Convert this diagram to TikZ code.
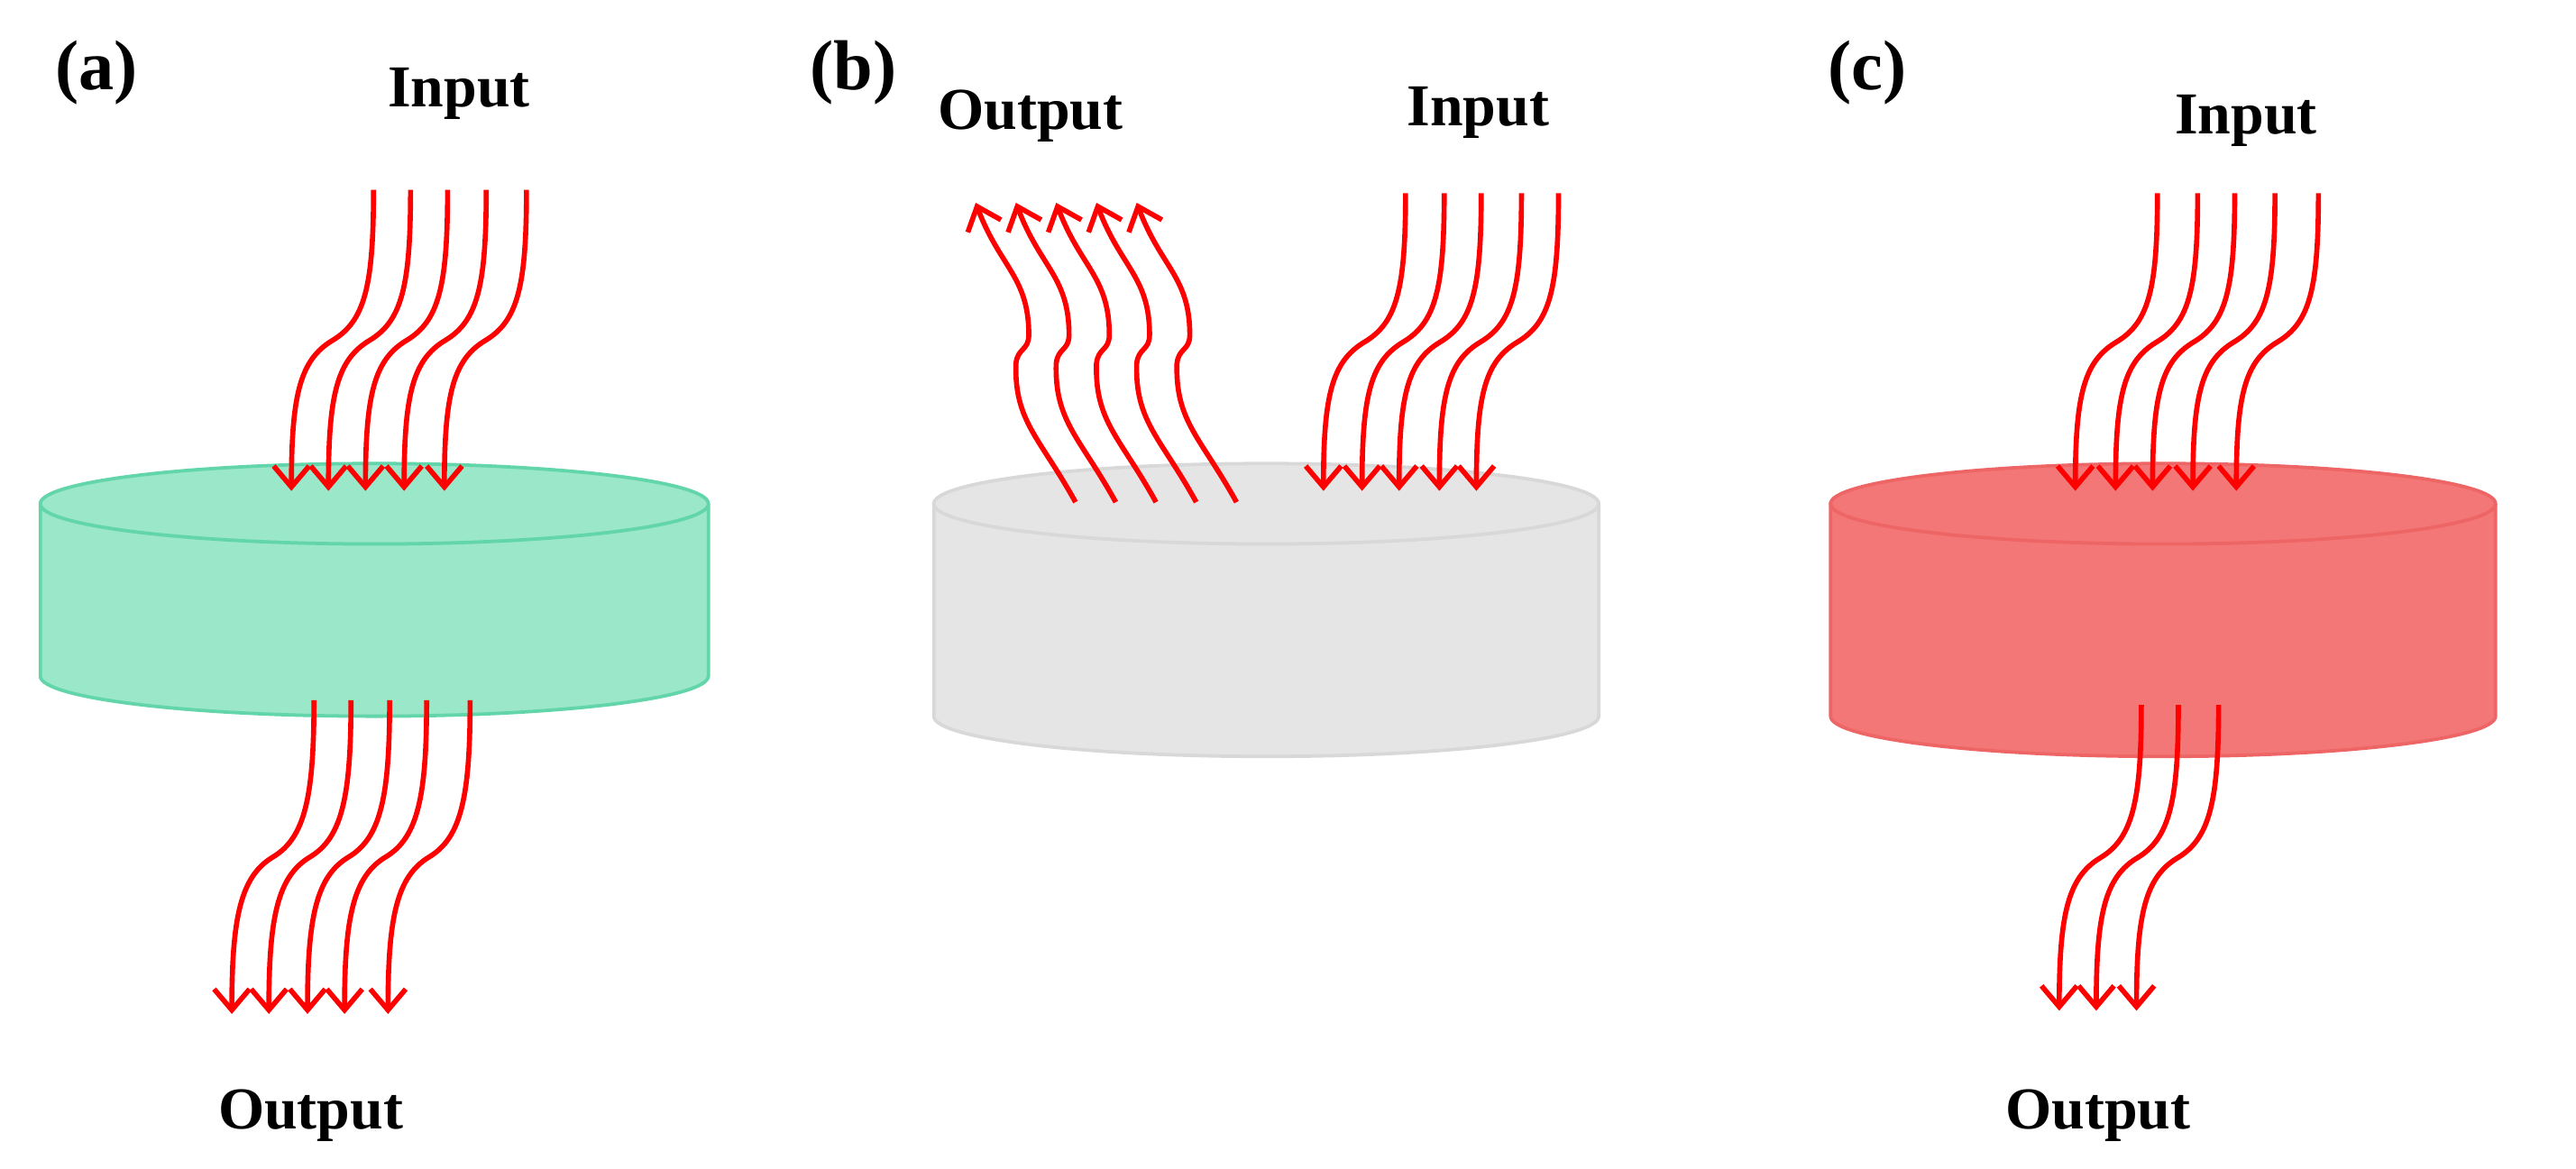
\documentclass[tikz,border=0pt]{standalone}
\usepackage{fontspec}
\setmainfont{Liberation Serif}
\usetikzlibrary{arrows.meta, calc}
\definecolor{cylgreen}{HTML}{9AE7CA}
\definecolor{edgegreen}{HTML}{62D5AB}
\definecolor{cylgray}{HTML}{E5E5E5}
\definecolor{edgegray}{HTML}{D8D8D8}
\definecolor{cylred}{HTML}{F47777}
\definecolor{edgered}{HTML}{EE6565}
\tikzset{
  label/.style={font=\bfseries\fontsize{10.5}{12}\selectfont},
  panel/.style={font=\bfseries\fontsize{12.5}{14}\selectfont},
  ray/.style={red, line width=0.9pt, -{Straight Barb[length=1.3mm,width=2.2mm,line width=0.9pt]}},
}
% cylinder: #1 centre x, #2 half width, #3 top y, #4 bottom y, #5 fill, #6 edge
\newcommand{\disc}[6]{%
  \filldraw[fill=#5, draw=#6, line width=0.6pt]
    (#1-#2,#3) -- (#1-#2,#4) arc[start angle=180, end angle=360, x radius=#2, y radius=0.25]
    -- (#1+#2,#3) arc[start angle=0, end angle=180, x radius=#2, y radius=0.25] -- cycle;
  \draw[#6, line width=0.6pt] (#1-#2,#3) arc[start angle=180, end angle=360, x radius=#2, y radius=0.25];
}
% wavy ray from named start to named tip
\newcommand{\wave}[2]{%
  \draw[ray] (#1) .. controls ($(#1)+(0,-0.6)$) and ($(#1)!0.5!(#2)+(0.2,0.12)$) .. ($(#1)!0.5!(#2)$)
    .. controls ($(#1)!0.5!(#2)+(-0.2,-0.12)$) and ($(#2)+(0,0.6)$) .. (#2);
}
% reflected ray, leaving the surface up and to the left
\newcommand{\back}[2]{%
  \draw[ray] (#1) .. controls ($(#1)+(-0.22,0.4)$) and ($(#1)+(-0.38,0.5)$) .. ($(#1)+(-0.37,0.86)$)
    .. controls ($(#1)+(-0.36,0.96)$) and ($(#1)+(-0.29,0.94)$) .. ($(#1)+(-0.29,1.04)$)
    .. controls ($(#1)+(-0.29,1.4)$) and ($(#2)+(0.15,-0.4)$) .. (#2);
}
\begin{document}
\begin{tikzpicture}
\useasboundingbox (0,0) rectangle (16,7.26);

% panel labels
\node[panel] (pa) at (0.60,6.81) {(a)};
\node[panel] (pb) at (5.30,6.81) {(b)};
\node[panel] (pc) at (11.60,6.81) {(c)};

% discs
\disc{2.325}{2.075}{4.13}{3.06}{cylgreen}{edgegreen}
\disc{7.865}{2.065}{4.13}{2.81}{cylgray}{edgegray}
\disc{13.435}{2.065}{4.13}{2.81}{cylred}{edgered}

% (a)
\node[label] (inA) at (2.85,6.68) {Input};
\node[label] (outA) at (1.93,0.33) {Output};
\foreach \i/\x in {1/2.32,2/2.55,3/2.78,4/3.02,5/3.27}{
  \coordinate (aS\i) at (\x,6.08);
  \coordinate (aT\i) at (\x-0.51,4.21);
  \wave{aS\i}{aT\i}
}
\foreach \i/\x in {1/1.95,2/2.18,3/2.42,4/2.65,5/2.92}{
  \coordinate (aU\i) at (\x,2.91);
  \coordinate (aV\i) at (\x-0.51,0.96);
  \wave{aU\i}{aV\i}
}

% (b)
\node[label] (outB) at (6.40,6.54) {Output};
\node[label] (inB) at (9.18,6.56) {Input};
\foreach \i/\x in {1/8.73,2/8.97,3/9.20,4/9.45,5/9.68}{
  \coordinate (bS\i) at (\x,6.06);
  \coordinate (bT\i) at (\x-0.51,4.21);
  \wave{bS\i}{bT\i}
}
\foreach \i/\x in {1/6.68,2/6.93,3/7.18,4/7.43,5/7.68}{
  \coordinate (bU\i) at (\x,4.14);
  \coordinate (bV\i) at (\x-0.62,6.00);
  \back{bU\i}{bV\i}
}

% (c)
\node[label] (inC) at (13.95,6.51) {Input};
\node[label] (outC) at (13.03,0.33) {Output};
\foreach \i/\x in {1/13.40,2/13.65,3/13.88,4/14.13,5/14.40}{
  \coordinate (cS\i) at (\x,6.06);
  \coordinate (cT\i) at (\x-0.51,4.21);
  \wave{cS\i}{cT\i}
}
\foreach \i/\x in {1/13.30,2/13.53,3/13.78}{
  \coordinate (cU\i) at (\x,2.88);
  \coordinate (cV\i) at (\x-0.51,0.98);
  \wave{cU\i}{cV\i}
}
\end{tikzpicture}
\end{document}
